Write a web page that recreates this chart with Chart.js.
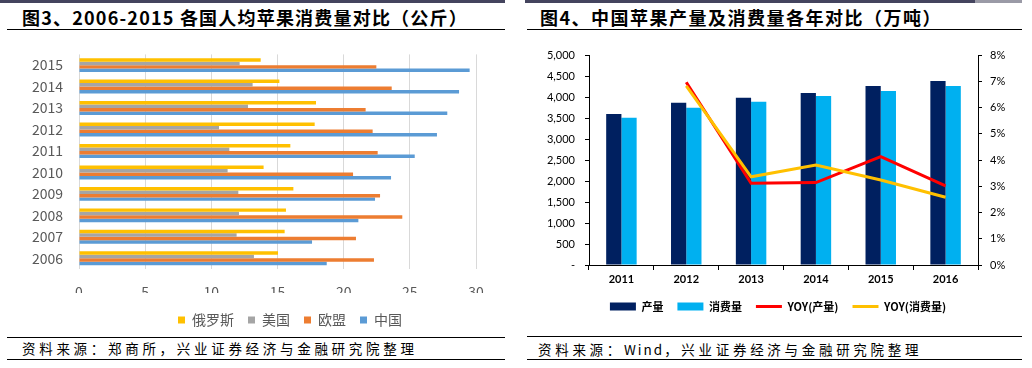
<!DOCTYPE html>
<html><head><meta charset="utf-8">
<script src="https://cdn.jsdelivr.net/npm/chart.js@4"></script>
<style>
html,body{margin:0;padding:0;background:#fff;}
body{width:1032px;height:368px;position:relative;overflow:hidden;font-family:"Noto Sans CJK SC",sans-serif;}
.abs{position:absolute;}
.bar{position:absolute;top:0;height:3px;}
.title{position:absolute;top:5px;height:24px;line-height:24px;font-size:18px;font-weight:700;color:#000;white-space:nowrap;}
.hline{position:absolute;height:1px;background:#000;}
.foot{position:absolute;font-size:13.5px;letter-spacing:3.7px;color:#000;white-space:nowrap;line-height:20px;}
</style></head><body>
<div class="bar" style="left:0;width:505px;background:#44445e"></div>
<div class="bar" style="left:525px;width:450px;background:#44445e"></div>
<div class="bar" style="left:975px;width:47px;background:#9a9aa6"></div>
<div class="title" style="left:22px;letter-spacing:1.2px">图3、2006-2015 各国人均苹果消费量对比（公斤）</div>
<div class="title" style="left:540px;letter-spacing:1.5px">图4、中国苹果产量及消费量各年对比（万吨）</div>
<div class="hline" style="left:7px;width:498px;top:29px"></div>
<div class="hline" style="left:527px;width:495px;top:29px"></div>
<div class="abs" style="left:0;top:30px;width:510px;height:306px"><canvas id="c1"></canvas></div>
<div class="abs" style="left:520px;top:30px;width:512px;height:306px"><canvas id="c2"></canvas></div>
<div class="hline" style="left:7px;width:498px;top:337px"></div>
<div class="hline" style="left:7px;width:498px;top:359px"></div>
<div class="hline" style="left:527px;width:495px;top:336px"></div>
<div class="hline" style="left:527px;width:495px;top:359px"></div>
<div class="foot" style="left:22px;top:338px">资料来源：郑商所，兴业证券经济与金融研究院整理</div>
<div class="foot" style="left:538px;top:339px">资料来源：<span style="letter-spacing:2px">Wind</span>，兴业证券经济与金融研究院整理</div>
<script>
// ---- Chart 1 data: per-capita apple consumption (kg) ----
const years1 = ['2015','2014','2013','2012','2011','2010','2009','2008','2007','2006'];
const russia = [13.73,15.14,17.91,17.81,15.97,13.95,16.20,15.64,15.54,15.04];
const usa    = [12.14,13.12,12.77,10.58,11.36,11.23,12.04,12.09,11.91,13.22];
const eu     = [22.47,23.63,21.66,22.19,22.57,20.71,22.75,24.43,20.93,22.29];
const china  = [29.52,28.72,27.83,27.05,25.37,23.58,22.37,21.11,17.61,18.72];
const xTicks1 = [0,5,10,15,20,25,30];

// ---- Chart 2 data: China apple production & consumption (10k tons) ----
const years2 = ['2011','2012','2013','2014','2015','2016'];
const production  = [3595,3865,3984,4095,4262,4381];
const consumption = [3508,3746,3889,4024,4143,4262];
const yoyProduction  = [null,6.96,3.11,3.14,4.13,3.01];
const yoyConsumption = [null,6.82,3.36,3.81,3.24,2.58];

const F = '"Noto Sans CJK SC", sans-serif';
const G = 'Lato, "Noto Sans CJK SC", sans-serif';

const fixLegend = {
  id: 'fixLegend',
  beforeLayout(chart, args, opts) {
    const lg = chart.legend;
    if (!lg || lg._patched) return;
    const orig = lg.fit;
    lg.fit = function () { orig.call(this); this.height = opts.height; };
    lg._patched = true;
  },
  afterLayout(chart, args, opts) {
    const lg = chart.legend;
    if (!lg) return;
    lg.left += opts.dx; lg.right += opts.dx;
    lg.top += opts.dy; lg.bottom += opts.dy;
  }
};

new Chart(document.getElementById('c1'), {
  type: 'bar',
  data: {
    labels: years1,
    datasets: [
      {label: '俄罗斯', data: russia, backgroundColor: '#FFC000'},
      {label: '美国', data: usa, backgroundColor: '#A5A5A5'},
      {label: '欧盟', data: eu, backgroundColor: '#ED7D31'},
      {label: '中国', data: china, backgroundColor: '#5B9BD5'}
    ]
  },
  options: {
    indexAxis: 'y', responsive: true, maintainAspectRatio: false, animation: false,
    datasets: {bar: {categoryPercentage: 0.65, barPercentage: 1.0}},
    layout: {padding: {left: 0, right: 34, top: 4, bottom: 0}},
    scales: {
      x: {
        min: xTicks1[0], max: xTicks1[xTicks1.length - 1],
        ticks: {stepSize: 5, padding: 14, color: '#595959', font: {size: 14, family: F}},
        grid: {color: '#D9D9D9', drawTicks: false},
        border: {display: false},
        afterFit: s => { s.height = 24; }
      },
      y: {
        ticks: {padding: 16, color: '#595959', font: {size: 14, family: F}},
        grid: {display: false, drawTicks: false},
        border: {display: false},
        afterFit: s => { s.width = 79; }
      }
    },
    plugins: {
      legend: {position: 'bottom', labels: {boxWidth: 7, boxHeight: 7, padding: 14, color: '#595959', font: {size: 14, family: F}}},
      tooltip: {enabled: false},
      fixLegend: {height: 43, dx: 52, dy: 6}
    }
  },
  plugins: [fixLegend]
});

new Chart(document.getElementById('c2'), {
  type: 'bar',
  data: {
    labels: years2,
    datasets: [
      {type: 'bar', label: '产量', data: production, backgroundColor: '#002060', yAxisID: 'y', order: 2},
      {type: 'bar', label: '消费量', data: consumption, backgroundColor: '#00B0F0', yAxisID: 'y', order: 3},
      {type: 'line', label: 'YOY(产量)', data: yoyProduction, borderColor: '#FF0000', backgroundColor: '#FF0000', borderWidth: 3, pointRadius: 0, tension: 0, yAxisID: 'y1', order: 1},
      {type: 'line', label: 'YOY(消费量)', data: yoyConsumption, borderColor: '#FFC000', backgroundColor: '#FFC000', borderWidth: 3, pointRadius: 0, tension: 0, yAxisID: 'y1', order: 0}
    ]
  },
  options: {
    responsive: true, maintainAspectRatio: false, animation: false,
    datasets: {bar: {categoryPercentage: 0.47, barPercentage: 1.0}},
    layout: {padding: {left: 0, right: 0, top: 25, bottom: 0}},
    scales: {
      x: {
        ticks: {padding: 3, color: '#000', font: {size: 11, weight: 'bold', family: G}},
        grid: {display: true, drawOnChartArea: false, drawTicks: true, tickLength: 5, color: '#000', offset: true},
        border: {display: true, color: '#000'},
        afterFit: s => { s.height = 24; }
      },
      y: {
        position: 'left', min: 0, max: 5000,
        ticks: {stepSize: 500, padding: 10, color: '#000', font: {size: 11, family: G},
          callback: v => v === 0 ? '-' : v.toLocaleString('en-US')},
        grid: {drawOnChartArea: false, drawTicks: true, tickLength: 4, color: '#000'},
        border: {display: true, color: '#000'},
        afterFit: s => { s.width = 69; }
      },
      y1: {
        position: 'right', min: 0, max: 8,
        ticks: {stepSize: 1, padding: 8, color: '#000', font: {size: 11, family: G}, callback: v => v + '%'},
        grid: {drawOnChartArea: false, drawTicks: true, tickLength: 4, color: '#000'},
        border: {display: true, color: '#000'},
        afterFit: s => { s.width = 54; }
      }
    },
    plugins: {
      legend: {
        position: 'bottom',
        labels: {
          usePointStyle: true, pointStyleWidth: 26, boxWidth: 26, boxHeight: 8, padding: 14,
          color: '#000', font: {size: 11, weight: 'bold', family: F},
          generateLabels: chart => chart.data.datasets.map((ds, i) => ({
            text: ds.label,
            fillStyle: ds.type === 'line' ? 'rgba(0,0,0,0)' : ds.backgroundColor,
            strokeStyle: ds.type === 'line' ? ds.borderColor : ds.backgroundColor,
            lineWidth: ds.type === 'line' ? 3 : 0,
            pointStyle: ds.type === 'line' ? 'line' : 'rect',
            fontColor: '#000',
            datasetIndex: i, hidden: false
          }))
        }
      },
      tooltip: {enabled: false},
      fixLegend: {height: 47, dx: 2, dy: -2}
    }
  },
  plugins: [fixLegend]
});
</script>
</body></html>
